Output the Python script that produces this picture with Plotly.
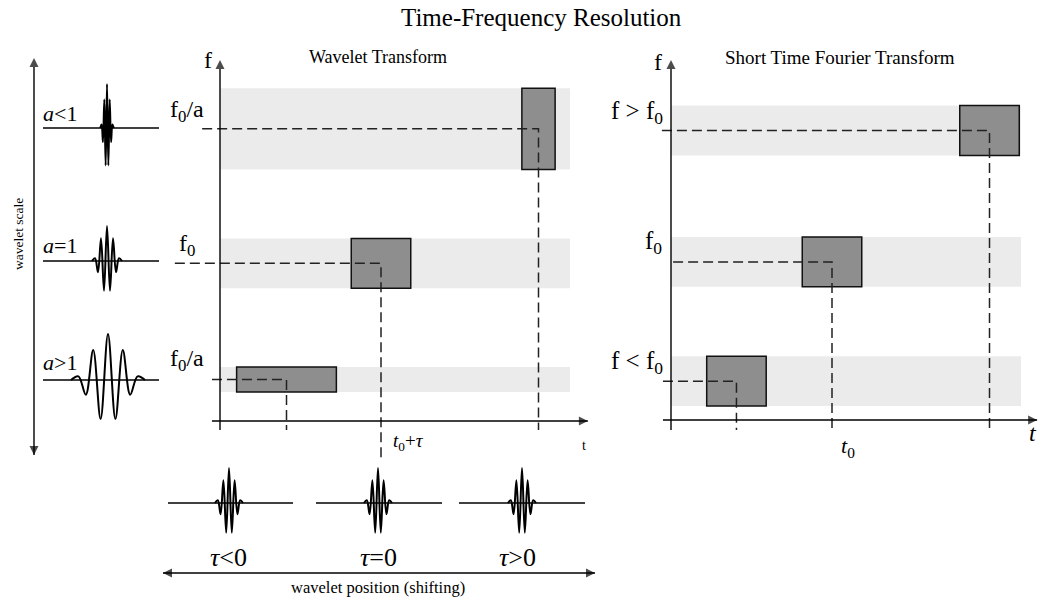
import plotly.graph_objects as go

# ---------------- data ----------------
WAVELET_SHAPE = [0, 0.08, -0.32, 0.65, -0.85, 1.0, -0.85, 0.65, -0.32, 0.08, 0]
SCALE_LABELS = ["<i>a</i>&lt;1", "<i>a</i>=1", "<i>a</i>&gt;1"]
SHIFT_LABELS = ["<i>τ</i>&lt;0", "<i>τ</i>=0", "<i>τ</i>&gt;0"]

# Wavelet transform tiles (bottom -> top): centre time, centre freq, width, height
WT_T = [1.9, 4.6, 9.1]
WT_F = [1.25, 4.75, 8.8]
WT_DT = [2.85, 1.7, 0.95]
WT_DF = [0.75, 1.5, 2.45]
WT_FLABELS = ["f<sub>0</sub>/a", "f<sub>0</sub>", "f<sub>0</sub>/a"]

# STFT tiles (bottom -> top)
STFT_T = [1.87, 4.6, 9.1]
STFT_F = [1.17, 4.76, 8.72]
STFT_DT = [1.7, 1.7, 1.7]
STFT_DF = [1.5, 1.5, 1.5]
STFT_FLABELS = ["f &lt; f<sub>0</sub>", "f<sub>0</sub>", "f &gt; f<sub>0</sub>"]

T_MAX = 10

# ---------------- layout constants ----------------
W, H = 1040, 598
PXT, PXF = 35.0, 33.2
FONT = "Liberation Serif, Times New Roman, serif"
BAND = "#ebebeb"
BOX = "#8e8e8e"
INK = "#111111"
DASH = "10px,5px"


def panel_axes(ox, oy, x0, x1, y0, y1):
    xa = dict(domain=[x0 / W, x1 / W], range=[(x0 - ox) / PXT, (x1 - ox) / PXT])
    ya = dict(domain=[1 - y1 / H, 1 - y0 / H], range=[(oy - y1) / PXF, (oy - y0) / PXF])
    return xa, ya


fig = go.Figure()

hidden = dict(visible=False, fixedrange=True, showgrid=False, zeroline=False)
wt_x, wt_y = panel_axes(220, 421, 160, 600, 50, 470)
st_x, st_y = panel_axes(671, 420, 600, 1040, 50, 470)

fig.update_layout(
    width=W, height=H, margin=dict(l=0, r=0, t=0, b=0),
    paper_bgcolor="white", plot_bgcolor="rgba(0,0,0,0)", showlegend=False,
    xaxis=dict(domain=[0, 1], range=[0, W], **hidden),
    yaxis=dict(domain=[0, 1], range=[H, 0], **hidden),
    xaxis2=dict(anchor="y2", **wt_x, **hidden),
    yaxis2=dict(anchor="x2", **wt_y, **hidden),
    xaxis3=dict(anchor="y3", **st_x, **hidden),
    yaxis3=dict(anchor="x3", **st_y, **hidden),
)

shapes = []
annotations = []


def arrow_line(xs, ys, symbols, sizes, xr="x", yr="y"):
    fig.add_trace(go.Scatter(
        x=xs, y=ys, mode="lines+markers", xaxis=xr, yaxis=yr, hoverinfo="skip",
        line=dict(color="black", width=1.4),
        marker=dict(symbol=symbols, size=sizes, color="black", line=dict(width=0)),
    ))


def text(x, y, s, size, xanchor="center", yanchor="middle", angle=0, xr="x", yr="y"):
    return dict(x=x, y=y, xref=xr, yref=yr, text=s, showarrow=False, xanchor=xanchor,
                yanchor=yanchor, textangle=angle, font=dict(family=FONT, size=size, color="black"))


def panel(T, F, DT, DF, dash_x0, dash_y1, xr, yr, t_axis, f_axis):
    for t, f, dt, df in zip(T, F, DT, DF):
        shapes.append(dict(type="rect", xref=xr, yref=yr, x0=0, x1=T_MAX,
                           y0=f - df / 2, y1=f + df / 2, fillcolor=BAND,
                           line=dict(width=0), layer="below"))
    for t, f, dt, df in zip(T, F, DT, DF):
        shapes.append(dict(type="rect", xref=xr, yref=yr, x0=t - dt / 2, x1=t + dt / 2,
                           y0=f - df / 2, y1=f + df / 2, fillcolor=BOX,
                           line=dict(width=1.5, color=INK), layer="below"))
    for t, f, x0, y1 in zip(T, F, dash_x0, dash_y1):
        fig.add_trace(go.Scatter(x=[x0, t, t], y=[f, f, y1], mode="lines",
                                 xaxis=xr, yaxis=yr, hoverinfo="skip",
                                 line=dict(color="#222", width=1.5, dash=DASH)))
    arrow_line([t_axis[0], t_axis[1]], [0, 0], ["circle", "arrow-right"], [0, 9], xr, yr)
    arrow_line([0, 0], [f_axis[0], f_axis[1]], ["circle", "arrow-up"], [0, 9], xr, yr)


panel(WT_T, WT_F, WT_DT, WT_DF, [-0.23, -1.29, -0.51], [-0.27, -1.2, -0.27],
      "x2", "y2", (-0.23, 10.51), (-0.27, 10.87))
panel(STFT_T, STFT_F, STFT_DT, STFT_DF, [-0.23, 0.06, -0.26], [-0.3, -0.3, -0.3],
      "x3", "y3", (-0.23, 10.46), (-0.3, 10.84))


def glyph(cx, by, step, amp, xl, xr_):
    fig.add_trace(go.Scatter(x=[xl, xr_], y=[by, by], mode="lines", hoverinfo="skip",
                             line=dict(color="black", width=1.5)))
    n = len(WAVELET_SHAPE)
    xs = [cx + (k - (n - 1) / 2) * step for k in range(n)]
    ys = [by - amp * v for v in WAVELET_SHAPE]
    fig.add_trace(go.Scatter(x=xs, y=ys, mode="lines", hoverinfo="skip",
                             line=dict(color="black", width=2, shape="spline", smoothing=1)))


# left: wavelet scale column
scale_cx = [107, 107, 108]
scale_by = [128, 261, 380]
scale_step = [1.35, 3.0, 7.4]
scale_amp = [44, 35, 46]
scale_lbl_y = [113, 245, 362]
for i in range(3):
    glyph(scale_cx[i], scale_by[i], scale_step[i], scale_amp[i], 43, 159)
    annotations.append(text(60, scale_lbl_y[i], SCALE_LABELS[i], 22))
# vertical double arrow (y axis of canvas is reversed: small y = top)
arrow_line([34, 34], [455, 58], ["arrow-down", "arrow-up"], [9, 9])
annotations.append(text(18, 234, "wavelet scale", 13.5, angle=-90))

# bottom: wavelet shifting row
shift_cx = [229, 378, 522]
shift_seg = [(168, 293), (316, 442), (459, 585)]
shift_lbl_x = [228, 378, 517]
for i in range(3):
    glyph(shift_cx[i], 503, 2.8, 35, shift_seg[i][0], shift_seg[i][1])
    annotations.append(text(shift_lbl_x[i], 557, SHIFT_LABELS[i], 26))
arrow_line([163, 595], [573, 573], ["arrow-left", "arrow-right"], [9, 9])
annotations.append(text(378, 587, "wavelet position (shifting)", 16.5))

# titles
annotations.append(text(541, 17, "Time-Frequency Resolution", 25))
annotations.append(text(378, 57, "Wavelet Transform", 18))
annotations.append(text(840, 57, "Short Time Fourier Transform", 19))

# WT labels
annotations.append(text(208, 60, "f", 24))
wt_lbl_y = [360, 245, 111]
wt_lbl_x = [206, 197, 206]
for i in range(3):
    annotations.append(text(wt_lbl_x[i], wt_lbl_y[i], WT_FLABELS[i], 24, xanchor="right"))
annotations.append(text(408, 442, "<i>t</i><sub>0</sub>+<i>τ</i>", 19))
annotations.append(text(584, 445, "t", 14))

# STFT labels
annotations.append(text(658, 62, "f", 24))
st_lbl_y = [362, 242, 112]
st_lbl_x = [665, 664, 665]
for i in range(3):
    annotations.append(text(st_lbl_x[i], st_lbl_y[i], STFT_FLABELS[i], 25, xanchor="right"))
annotations.append(text(848, 447, "<i>t</i><sub>0</sub>", 22))
annotations.append(text(1033, 433, "<i>t</i>", 24))

fig.update_layout(shapes=shapes, annotations=annotations)
fig.write_html("out.html")
